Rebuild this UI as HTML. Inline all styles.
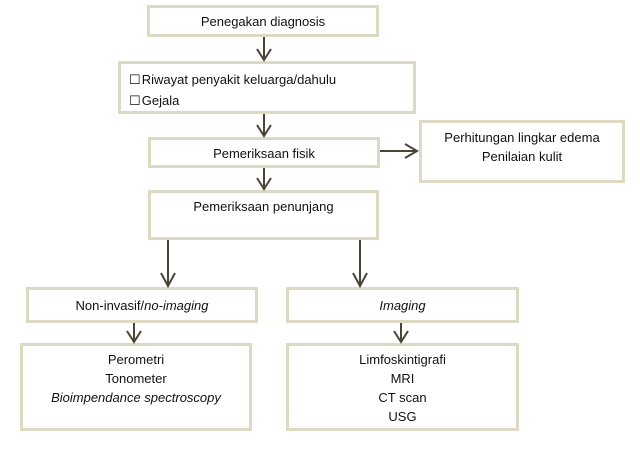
<!DOCTYPE html>
<html><head><meta charset="utf-8"><style>
body{margin:0;width:640px;height:452px;background:#fff;position:relative;overflow:hidden;font-family:"Liberation Sans",sans-serif;font-size:13px;color:#111}
.b{position:absolute;box-sizing:border-box;border:3px solid #ddd9c3;background:#fff;text-align:center;line-height:19px}
svg{position:absolute;left:0;top:0}
</style></head><body>
<div class="b" style="left:147px;top:5px;width:232px;height:32px;padding-top:4px">Penegakan diagnosis</div>
<div class="b" style="left:118px;top:61px;width:298px;height:53px;text-align:left;padding:5px 0 0 8px;line-height:21px">&#x2610;&#8202;Riwayat penyakit keluarga/dahulu<br>&#x2610;&#8202;Gejala</div>
<div class="b" style="left:148px;top:137px;width:232px;height:31px;padding-top:4px">Pemeriksaan fisik</div>
<div class="b" style="left:419px;top:120px;width:206px;height:63px;padding-top:5px">Perhitungan lingkar edema<br>Penilaian kulit</div>
<div class="b" style="left:148px;top:190px;width:231px;height:50px;padding-top:4px">Pemeriksaan penunjang</div>
<div class="b" style="left:26px;top:287px;width:232px;height:36px;padding-top:6px">Non-invasif/<i>no-imaging</i></div>
<div class="b" style="left:286px;top:287px;width:233px;height:36px;padding-top:6px"><i>Imaging</i></div>
<div class="b" style="left:20px;top:343px;width:232px;height:88px;padding-top:4px">Perometri<br>Tonometer<br><i>Bioimpendance spectroscopy</i></div>
<div class="b" style="left:286px;top:343px;width:233px;height:88px;padding-top:4px">Limfoskintigrafi<br>MRI<br>CT scan<br>USG</div>
<svg width="640" height="452" fill="none" stroke="#4a4535" stroke-width="2">
<path d="M264 37V60M257 49L264 60L271 49"/>
<path d="M264 114V136M257 125L264 136L271 125"/>
<path d="M264 168V189M257 178L264 189L271 178"/>
<path d="M380 151H417M405 144L417 151L405 158"/>
<path d="M168 240V286M161 273L168 286L175 273"/>
<path d="M360 240V286M353 273L360 286L367 273"/>
<path d="M134 323V342M127 331L134 342L141 331"/>
<path d="M401 323V342M394 331L401 342L408 331"/>
</svg>
</body></html>
